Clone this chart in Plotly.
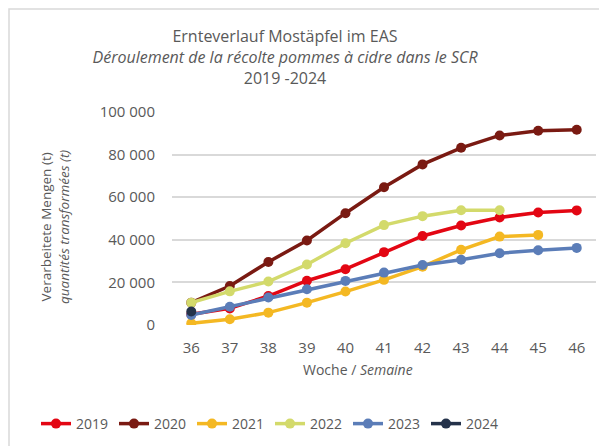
import plotly.graph_objects as go

weeks = [36, 37, 38, 39, 40, 41, 42, 43, 44, 45, 46]
years = ["2019", "2020", "2021", "2022", "2023", "2024"]
v2019 = [5000, 7800, 13600, 20800, 26200, 34200, 41800, 46700, 50500, 52800, 53800]
v2020 = [10500, 18300, 29600, 39700, 52500, 64700, 75400, 83200, 89000, 91200, 91700]
v2021 = [800, 2700, 5800, 10500, 15700, 21200, 27400, 35300, 41500, 42300]
v2022 = [10500, 15800, 20400, 28400, 38400, 46900, 51100, 53900, 53900]
v2023 = [4700, 8600, 12900, 16800, 20700, 24600, 28200, 30600, 33700, 35100, 36200]
v2024 = [6300]
series = [v2019, v2020, v2021, v2022, v2023, v2024]
colors = ["#E30613", "#7A1A12", "#F4B823", "#D3DA6B", "#5B7DB8", "#24324A"]
ytickvals = [0, 20000, 40000, 60000, 80000, 100000]
yticktext = ["0", "20 000", "40 000", "60 000", "80 000", "100 000"]

FONT = "Open Sans"
GRAY = "#595959"
W, H = 607, 446
OFF = 8  # page offset of the figure in the browser
L, R, T, B = 172 - OFF, 596 - OFF, 112 - OFF, 325 - OFF  # plot area in figure px
PW, PH = R - L, B - T

def px(x):
    return (x - OFF - L) / PW

def py(y):
    return (B - (y - OFF)) / PH

fig = go.Figure()
for name, vals, col in zip(years, series, colors):
    fig.add_trace(go.Scatter(
        x=weeks[:len(vals)], y=vals, name=name, mode="lines+markers",
        line=dict(color=col, width=3.5),
        marker=dict(color=col, size=10),
    ))

fig.update_layout(
    width=W, height=H,
    margin=dict(l=L, r=W - R, t=T, b=H - B, autoexpand=False),
    paper_bgcolor="white", plot_bgcolor="white",
    font=dict(family=FONT, color=GRAY, size=14),
    title=dict(
        text="Ernteverlauf Mostäpfel im EAS<br><i>Déroulement de la récolte pommes à cidre dans le SCR</i><br>2019 -2024",
        x=(285 - OFF) / W, xanchor="center", xref="container",
        y=1 - 34 / H, yanchor="top", yref="container",
        font=dict(family=FONT, size=16, color=GRAY),
    ),
    xaxis=dict(
        range=[35.5, 46.5], tickvals=weeks, ticktext=[str(w) for w in weeks],
        showgrid=False, zeroline=False, showline=False, ticks="",
        tickfont=dict(size=15, color=GRAY), ticklabelstandoff=12,
    ),
    yaxis=dict(
        range=[0, 100000], tickvals=ytickvals, ticktext=yticktext,
        showgrid=True, gridcolor="#D9D9D9", gridwidth=1.5,
        zeroline=False, showline=False, ticks="",
        tickfont=dict(size=15, color=GRAY), ticklabelstandoff=16,
    ),
    showlegend=True,
    legend=dict(
        orientation="h", xref="paper", x=px(36), xanchor="left",
        yref="paper", y=py(424), yanchor="middle",
        font=dict(size=14, color=GRAY), itemwidth=30, tracegroupgap=0,
        entrywidth=33, entrywidthmode="pixels",
    ),
    annotations=[
        dict(text="Verarbeitete Mengen (t)<br><i>quantités transformées (t)</i>",
             xref="paper", yref="paper", x=px(55), y=py(227), textangle=-90,
             showarrow=False, xanchor="center", yanchor="middle",
             font=dict(size=13.5, color=GRAY, family=FONT)),
        dict(text="Woche / <i>Semaine</i>",
             xref="paper", yref="paper", x=px(358), y=py(369),
             showarrow=False, xanchor="center", yanchor="middle",
             font=dict(size=14, color=GRAY, family=FONT)),
    ],
    shapes=[
        dict(type="rect", xref="paper", yref="paper",
             x0=px(9), x1=px(640), y0=py(480), y1=py(9),
             line=dict(color="#D9D9D9", width=1.5), fillcolor="rgba(0,0,0,0)", layer="below"),
    ],
)

fig.write_html("out.html")
